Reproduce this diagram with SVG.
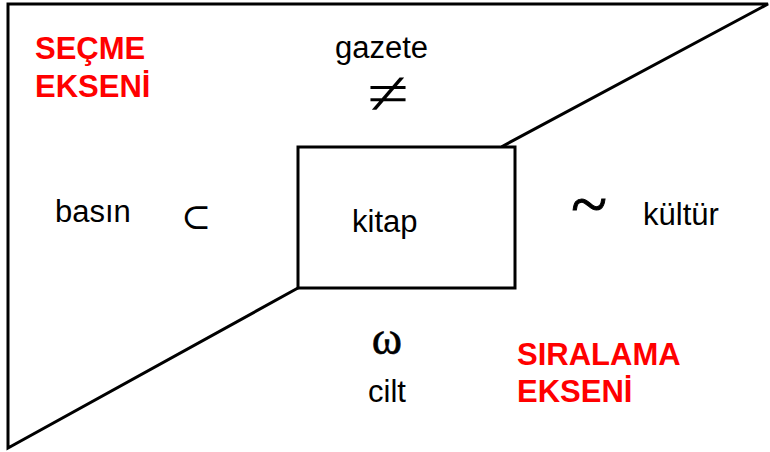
<svg xmlns="http://www.w3.org/2000/svg" width="770" height="452" viewBox="0 0 770 452">
<style>
.ln{fill:none;stroke:#000;stroke-width:3;stroke-linecap:square}
.lbl{font-family:"Liberation Sans",Arial,sans-serif;font-size:31px;fill:#000}
.ax{font-family:"Liberation Sans",Arial,sans-serif;font-size:31px;font-weight:bold;fill:#ff0000}
.sym{font-family:"Liberation Serif","DejaVu Serif",serif;fill:#000}
</style>
<rect width="770" height="452" fill="#fff"/>
<g id="frame">
<polyline class="ln" points="503,146 768,4 8,4 8,448 298,288"/>
</g>
<g id="kitap">
<rect class="ln" x="298" y="147" width="217" height="141"/>
<text class="lbl" x="352" y="232">kitap</text>
</g>
<g id="secme">
<text class="ax" x="35" y="59">SEÇME</text>
<text class="ax" x="35" y="97">EKSENİ</text>
</g>
<g id="siralama">
<text class="ax" x="517" y="365">SIRALAMA</text>
<text class="ax" x="517" y="402">EKSENİ</text>
</g>
<g id="gazete">
<text class="lbl" x="335" y="58">gazete</text>
<text class="sym" transform="translate(388,114) scale(1.3,1.05)" font-size="58" text-anchor="middle">≠</text>
</g>
<g id="basin">
<text class="lbl" x="55" y="222">basın</text>
<text class="sym" x="196" y="229" font-size="36" text-anchor="middle">⊂</text>
</g>
<g id="kultur">
<text class="lbl" x="643" y="225">kültür</text>
<text class="sym" x="589" y="226" font-size="66" text-anchor="middle" stroke="#000" stroke-width="1">~</text>
</g>
<g id="cilt">
<text class="sym" x="387" y="354" font-size="46" text-anchor="middle" stroke="#000" stroke-width="0.6">ω</text>
<text class="lbl" x="368" y="402">cilt</text>
</g>
</svg>
